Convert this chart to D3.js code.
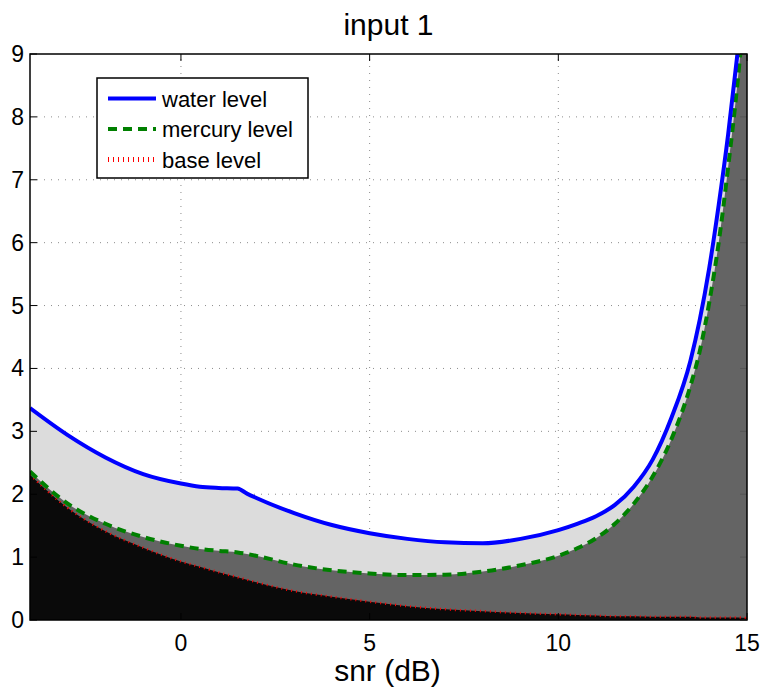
<!DOCTYPE html>
<html>
<head>
<meta charset="utf-8">
<script src="https://d3js.org/d3.v7.min.js"></script>
<style>
    body { margin: 0; background: #fff; }
    svg text { font-family: "Liberation Sans", Arial, sans-serif; fill: #000; }
</style>
</head>
<body>
<div class="svg-wrap"><svg></svg></div>
<script>
var width = 765;
var height = 687;

// snr (dB) sample points
var snr = [-4, -3, -2, -1, 0, 0.5, 1, 1.5, 1.75, 2, 3, 4, 5, 6, 7, 8, 9, 10, 10.5, 11, 11.5, 12, 12.5, 13, 13.5, 13.75, 14, 14.25, 14.5, 14.75, 15];
var waterLevel = [3.37, 2.94, 2.585, 2.32, 2.17, 2.12, 2.10, 2.09, 2.01, 1.94, 1.70, 1.51, 1.38, 1.29, 1.235, 1.22, 1.29, 1.43, 1.53, 1.65, 1.83, 2.12, 2.55, 3.22, 4.12, 4.78, 5.60, 6.60, 7.72, 9.02, 10.5];
var mercuryLevel = [2.36, 1.85, 1.53, 1.32, 1.18, 1.13, 1.10, 1.075, 1.05, 1.02, 0.88, 0.79, 0.74, 0.715, 0.72, 0.77, 0.87, 1.02, 1.14, 1.30, 1.53, 1.85, 2.28, 2.88, 3.72, 4.28, 5.05, 6.00, 7.20, 8.55, 10.2];
var baseLevel = [2.31, 1.78, 1.41, 1.15, 0.93, 0.845, 0.76, 0.68, 0.64, 0.60, 0.46, 0.37, 0.29, 0.22, 0.17, 0.14, 0.11, 0.09, 0.08, 0.07, 0.06, 0.06, 0.05, 0.05, 0.05, 0.04, 0.04, 0.04, 0.04, 0.04, 0.03];

var xTicks = [0, 5, 10, 15];
var yTicks = [0, 1, 2, 3, 4, 5, 6, 7, 8, 9];
var legendNames = ["water level", "mercury level", "base level"];

var margin = { left: 30, right: 18, top: 54, bottom: 67 };
var plotW = width - margin.left - margin.right;
var plotH = height - margin.top - margin.bottom;

var svg = d3.select(".svg-wrap > svg")
    .attr("width", width)
    .attr("height", height);

var x = d3.scaleLinear().domain([-4, 15]).range([margin.left, margin.left + plotW]);
var y = d3.scaleLinear().domain([0, 9]).range([margin.top + plotH, margin.top]);

svg.append("defs").append("clipPath")
    .attr("id", "plotClip")
    .append("rect")
    .attr("x", margin.left).attr("y", margin.top)
    .attr("width", plotW).attr("height", plotH);

// grid (sits under the filled areas)
var grid = svg.append("g").attr("class", "grid");
grid.selectAll("line.gx")
    .data(xTicks.filter(function (d) { return d > -4 && d < 15; }))
    .enter().append("line")
    .attr("x1", function (d) { return x(d); })
    .attr("x2", function (d) { return x(d); })
    .attr("y1", y(0)).attr("y2", y(9))
    .attr("stroke", "#8c8c8c").attr("stroke-width", 1)
    .attr("stroke-dasharray", "1,6");
grid.selectAll("line.gy")
    .data(yTicks.filter(function (d) { return d > 0 && d < 9; }))
    .enter().append("line")
    .attr("y1", function (d) { return y(d); })
    .attr("y2", function (d) { return y(d); })
    .attr("x1", x(-4)).attr("x2", x(15))
    .attr("stroke", "#8c8c8c").attr("stroke-width", 1)
    .attr("stroke-dasharray", "1,6");

var rows = snr.map(function (s, i) {
    return { snr: s, water: waterLevel[i], mercury: mercuryLevel[i], base: baseLevel[i] };
});

function areaFor(key) {
    return d3.area()
        .curve(d3.curveMonotoneX)
        .x(function (d) { return x(d.snr); })
        .y0(y(0))
        .y1(function (d) { return y(d[key]); });
}

function lineFor(key) {
    return d3.line()
        .curve(d3.curveMonotoneX)
        .x(function (d) { return x(d.snr); })
        .y(function (d) { return y(d[key]); });
}

var plot = svg.append("g").attr("clip-path", "url(#plotClip)");

plot.append("path").datum(rows).attr("d", areaFor("water")).attr("fill", "#dcdcdc");
plot.append("path").datum(rows).attr("d", areaFor("mercury")).attr("fill", "#646464");
plot.append("path").datum(rows).attr("d", areaFor("base")).attr("fill", "#0a0a0a");

var lineStyles = [
    { key: "base", stroke: "#ff0000", width: 2.5, dash: "1,4" },
    { key: "mercury", stroke: "#008000", width: 4, dash: "9,6" },
    { key: "water", stroke: "#0000ff", width: 4, dash: null }
];
lineStyles.forEach(function (st) {
    plot.append("path").datum(rows).attr("d", lineFor(st.key))
        .attr("fill", "none").attr("stroke", st.stroke)
        .attr("stroke-width", st.width)
        .attr("stroke-dasharray", st.dash);
});

// box and inward ticks
var axes = svg.append("g").attr("class", "axes");
var tickLen = 7;
axes.selectAll("line.tb")
    .data(xTicks).enter().append("line")
    .attr("x1", function (d) { return x(d); }).attr("x2", function (d) { return x(d); })
    .attr("y1", y(0)).attr("y2", y(0) - tickLen)
    .attr("stroke", "#000").attr("stroke-width", 1);
axes.selectAll("line.tt")
    .data(xTicks).enter().append("line")
    .attr("x1", function (d) { return x(d); }).attr("x2", function (d) { return x(d); })
    .attr("y1", y(9)).attr("y2", y(9) + tickLen)
    .attr("stroke", "#000").attr("stroke-width", 1);
axes.selectAll("line.tl")
    .data(yTicks).enter().append("line")
    .attr("y1", function (d) { return y(d); }).attr("y2", function (d) { return y(d); })
    .attr("x1", x(-4)).attr("x2", x(-4) + tickLen)
    .attr("stroke", "#000").attr("stroke-width", 1);
axes.selectAll("line.tr")
    .data(yTicks).enter().append("line")
    .attr("y1", function (d) { return y(d); }).attr("y2", function (d) { return y(d); })
    .attr("x1", x(15)).attr("x2", x(15) - tickLen)
    .attr("stroke", "#555").attr("stroke-width", 1);

axes.append("rect")
    .attr("x", margin.left).attr("y", margin.top)
    .attr("width", plotW).attr("height", plotH)
    .attr("fill", "none").attr("stroke", "#000").attr("stroke-width", 1.5);

axes.selectAll("text.xl")
    .data(xTicks).enter().append("text")
    .attr("x", function (d) { return x(d); })
    .attr("y", y(0) + 31)
    .attr("text-anchor", "middle")
    .attr("font-size", 23)
    .text(function (d) { return d; });
axes.selectAll("text.yl")
    .data(yTicks).enter().append("text")
    .attr("x", margin.left - 6)
    .attr("y", function (d) { return y(d) + 8; })
    .attr("text-anchor", "end")
    .attr("font-size", 23)
    .text(function (d) { return d; });

svg.append("text")
    .attr("x", margin.left + plotW / 2).attr("y", 35)
    .attr("text-anchor", "middle").attr("font-size", 30)
    .text("input 1");
svg.append("text")
    .attr("x", margin.left + plotW / 2 - 1).attr("y", 681)
    .attr("text-anchor", "middle").attr("font-size", 30)
    .text("snr (dB)");

// legend
var legend = svg.append("g").attr("class", "legend");
legend.append("rect")
    .attr("x", 97).attr("y", 78).attr("width", 211).attr("height", 100)
    .attr("fill", "#fff").attr("stroke", "#000").attr("stroke-width", 1.5);
legendNames.forEach(function (name, i) {
    var ly = 98.5 + i * 30.5;
    var st = lineStyles[2 - i];
    legend.append("line")
        .attr("x1", 108).attr("x2", 156)
        .attr("y1", ly).attr("y2", ly)
        .attr("stroke", st.stroke).attr("stroke-width", i == 2 ? 5 : st.width)
        .attr("stroke-dasharray", i == 2 ? "1,4" : st.dash);
    legend.append("text")
        .attr("x", 162).attr("y", ly + 8)
        .attr("font-size", 22)
        .text(name);
});
</script>
</body>
</html>
